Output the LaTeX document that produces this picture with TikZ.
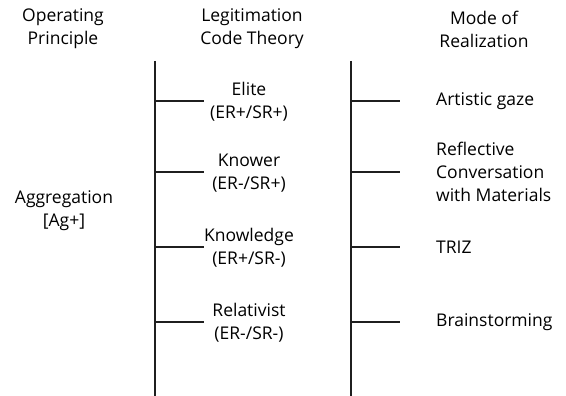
\documentclass[tikz,border=0pt]{standalone}
\usepackage{fontspec}
\setmainfont{Open Sans}
\usetikzlibrary{positioning}
\tikzset{
  headnode/.style={align=center, inner sep=0pt, font=\fontsize{17.5}{23}\selectfont},
  codenode/.style={align=center, inner sep=0pt, font=\fontsize{17.5}{23}\selectfont},
  modenode/.style={align=left, anchor=west, inner sep=0pt, font=\fontsize{17.5}{23}\selectfont},
  spine/.style={line width=1.6pt, black!88},
  branch/.style={line width=1.6pt, black!88}
}

\begin{document}
\begin{tikzpicture}[x=1pt,y=-1pt]
\useasboundingbox (0,0) rectangle (566,396);

% Headings
\node[headnode] (OP) at (63,29) {Operating\\Principle};
\node[headnode] (LCT) at (252,29) {Legitimation\\Code Theory};
\node[headnode] (MR) at (484,29) {Mode of\\Realization};

% Operating principle
\node[headnode] (AG) at (64,211) {Aggregation\\{[Ag+]}};

% Spines
\coordinate (LT) at (155,61);
\coordinate (LB) at (155,396);
\coordinate (RT) at (351,61);
\coordinate (RB) at (351,396);
\draw[spine] (LT) -- (LB);
\draw[spine] (RT) -- (RB);

% Branch points
\coordinate (L1) at (155,101);
\coordinate (L2) at (155,172);
\coordinate (L3) at (155,247);
\coordinate (L4) at (155,322);
\coordinate (R1) at (351,101);
\coordinate (R2) at (351,172);
\coordinate (R3) at (351,247);
\coordinate (R4) at (351,322);
\coordinate (L1e) at (204,101);
\coordinate (L2e) at (204,172);
\coordinate (L3e) at (204,247);
\coordinate (L4e) at (204,322);
\coordinate (R1e) at (400,101);
\coordinate (R2e) at (400,172);
\coordinate (R3e) at (400,247);
\coordinate (R4e) at (400,322);

% Codes
\node[codenode] (EL) at (249,102) {Elite\\(ER+/SR+)};
\node[codenode] (KN) at (249,173) {Knower\\(ER-/SR+)};
\node[codenode] (KG) at (249,248) {Knowledge\\(ER+/SR-)};
\node[codenode] (RE) at (249,323) {Relativist\\(ER-/SR-)};

% Modes
\node[modenode] (AGZ) at (436,101) {Artistic gaze};
\node[modenode] (RCM) at (436,172) {Reflective\\Conversation\\with Materials};
\node[modenode] (TRZ) at (436,247) {TRIZ};
\node[modenode] (BST) at (436,322) {Brainstorming};

% Branches
\draw[branch] (L1) -- (L1e);
\draw[branch] (L2) -- (L2e);
\draw[branch] (L3) -- (L3e);
\draw[branch] (L4) -- (L4e);
\draw[branch] (R1) -- (R1e);
\draw[branch] (R2) -- (R2e);
\draw[branch] (R3) -- (R3e);
\draw[branch] (R4) -- (R4e);

\end{tikzpicture}
\end{document}
